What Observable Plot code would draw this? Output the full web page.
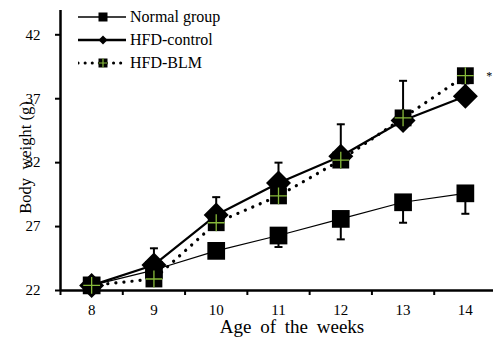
<!DOCTYPE html>
<html>
<head>
<meta charset="utf-8">
<script src="https://cdn.jsdelivr.net/npm/d3@7"></script>
<script src="https://cdn.jsdelivr.net/npm/@observablehq/plot@0.6"></script>
<style>
  body { margin: 0; background: #fff; }
  #wrap { position: relative; width: 493px; height: 337px; font-family: 'Liberation Serif', 'Tinos', 'Times New Roman', 'DejaVu Serif', serif; }
  #legend { position: absolute; left: 78px; top: 5px; }
  .row { display: flex; align-items: center; height: 23px; }
  .row span { font-family: 'Liberation Serif', 'Tinos', 'Times New Roman', 'DejaVu Serif', serif; font-size: 16px; margin-left: 2px; color: #000; }
  .xtitle text { word-spacing: 4px; }
</style>
</head>
<body>
<div id="wrap"><div id="legend"></div></div>
<script>
const weeks = [8, 9, 10, 11, 12, 13, 14];
const normalMean = [22.4, 23.6, 25.1, 26.3, 27.6, 28.9, 29.6];
const normalSD = [0.2, 0.3, 0.5, 0.9, 1.6, 1.6, 1.6];
const controlMean = [22.4, 24.0, 27.9, 30.4, 32.5, 35.3, 37.2];
const controlSD = [0.3, 1.3, 1.4, 1.6, 2.5, 3.1, 1.0];
const blmMean = [22.4, 22.9, 27.3, 29.4, 32.2, 35.5, 38.8];
const seriesNames = ["Normal group", "HFD-control", "HFD-BLM"];
const yTicks = [22, 27, 32, 37, 42];
const xTitle = "Age of the weeks";
const yTitle = "Body  weight (g)";
const annotations = [{week: 14, value: 38.8, label: "*"}];

const FONT = "'Liberation Serif', 'Tinos', 'Times New Roman', 'DejaVu Serif', serif";
const GREEN = "#86b83a";
const normal = weeks.map((w, i) => ({week: w, mean: normalMean[i], sd: normalSD[i]}));
const control = weeks.map((w, i) => ({week: w, mean: controlMean[i], sd: controlSD[i]}));
const blm = weeks.map((w, i) => ({week: w, mean: blmMean[i]}));
const boundaries = [...weeks.map(w => w - 0.5), weeks[weeks.length - 1] + 0.5];

const diamond = {draw(ctx, size) { const r = Math.sqrt(size / Math.PI) * 1.25; ctx.moveTo(0, -r); ctx.lineTo(r, 0); ctx.lineTo(0, r); ctx.lineTo(-r, 0); ctx.closePath(); }};
const cross = {draw(ctx, size) { const r = Math.sqrt(size / Math.PI) * 0.886; ctx.moveTo(-r, 0); ctx.lineTo(r, 0); ctx.moveTo(0, -r); ctx.lineTo(0, r); }};
const cap = {draw(ctx, size) { ctx.moveTo(-4, 0); ctx.lineTo(4, 0); }};

const chart = Plot.plot({
  width: 493,
  height: 337,
  marginLeft: 60,
  marginRight: 0,
  marginTop: 10,
  marginBottom: 47,
  style: {fontFamily: FONT, fontSize: "15px", color: "#000", background: "#fff", overflow: "visible"},
  x: {type: "linear", domain: [7.5, 14.5], range: [60, 496]},
  y: {domain: [22, 43.9]},
  marks: [
    Plot.axisY({ticks: yTicks, tickSize: 5, tickPadding: 15, strokeWidth: 2, label: null, fontSize: 15, fontFamily: FONT, tickFormat: d => String(d)}),
    Plot.axisX({ticks: boundaries, tickSize: 5, strokeWidth: 2, tickFormat: () => "", label: null}),
    Plot.axisX({ticks: weeks, tickSize: 0, tickPadding: 14, label: null, fontSize: 15, fontFamily: FONT, tickFormat: d => String(d)}),
    Plot.ruleY([22], {strokeWidth: 2.5}),
    Plot.ruleX([7.5], {strokeWidth: 2.5}),
    Plot.line(normal, {x: "week", y: "mean", stroke: "#000", strokeWidth: 1.2}),
    Plot.line(control, {x: "week", y: "mean", stroke: "#000", strokeWidth: 2.2}),
    Plot.line(blm, {x: "week", y: "mean", stroke: "#000", strokeWidth: 3.2, strokeDasharray: "0.1,8", strokeLinecap: "round"}),
    Plot.ruleX(normal, {x: "week", y1: "mean", y2: d => d.mean - d.sd, strokeWidth: 2}),
    Plot.dot(normal, {x: "week", y: d => d.mean - d.sd, symbol: cap, stroke: "#000", strokeWidth: 2}),
    Plot.ruleX(control, {x: "week", y1: "mean", y2: d => d.mean + d.sd, strokeWidth: 2}),
    Plot.dot(control, {x: "week", y: d => d.mean + d.sd, symbol: cap, stroke: "#000", strokeWidth: 2}),
    Plot.dot(normal, {x: "week", y: "mean", symbol: "square", r: 10, fill: "#000"}),
    Plot.dot(control, {x: "week", y: "mean", symbol: diamond, r: 10, fill: "#000"}),
    Plot.dot(blm, {x: "week", y: "mean", symbol: "square", r: 9.5, fill: "#000"}),
    Plot.dot(blm, {x: "week", y: "mean", symbol: cross, r: 9.5, stroke: GREEN, strokeWidth: 1.3, fill: "none"}),
    Plot.text(annotations, {x: "week", y: "value", text: "label", dx: 24, dy: 0, fontSize: 12, fontFamily: FONT}),
    Plot.text([yTitle], {frameAnchor: "left", dx: -35, dy: 7, rotate: -90, fontSize: 16.5, fontFamily: FONT, text: d => d, textAnchor: "middle"}),
    Plot.text([xTitle], {frameAnchor: "bottom", dx: 15, dy: 42, fontSize: 19, fontFamily: FONT, lineAnchor: "bottom", text: d => d, className: "xtitle"})
  ]
});
document.getElementById("wrap").prepend(chart);

// legend
const legend = d3.select("#legend");
seriesNames.forEach((name, i) => {
  const row = legend.append("div").attr("class", "row");
  const svg = row.append("svg").attr("width", 50).attr("height", 16);
  const line = svg.append("line").attr("x1", 0).attr("x2", 48).attr("y1", 8).attr("y2", 8).attr("stroke", "#000");
  if (i === 0) {
    line.attr("stroke-width", 1.5);
    svg.append("rect").attr("x", 20.5).attr("y", 3.5).attr("width", 9).attr("height", 9).attr("fill", "#000");
  } else if (i === 1) {
    line.attr("stroke-width", 2.5);
    svg.append("path").attr("d", "M25,3.5L29.5,8L25,12.5L20.5,8Z").attr("fill", "#000");
  } else {
    line.attr("stroke-width", 3).attr("stroke-dasharray", "0.1,7").attr("stroke-linecap", "round");
    svg.append("rect").attr("x", 20.5).attr("y", 3.5).attr("width", 9).attr("height", 9).attr("fill", "#000");
    svg.append("path").attr("d", "M20.5,8H29.5M25,3.5V12.5").attr("stroke", GREEN).attr("stroke-width", 1.2);
  }
  row.append("span").text(name);
});
</script>
</body>
</html>
